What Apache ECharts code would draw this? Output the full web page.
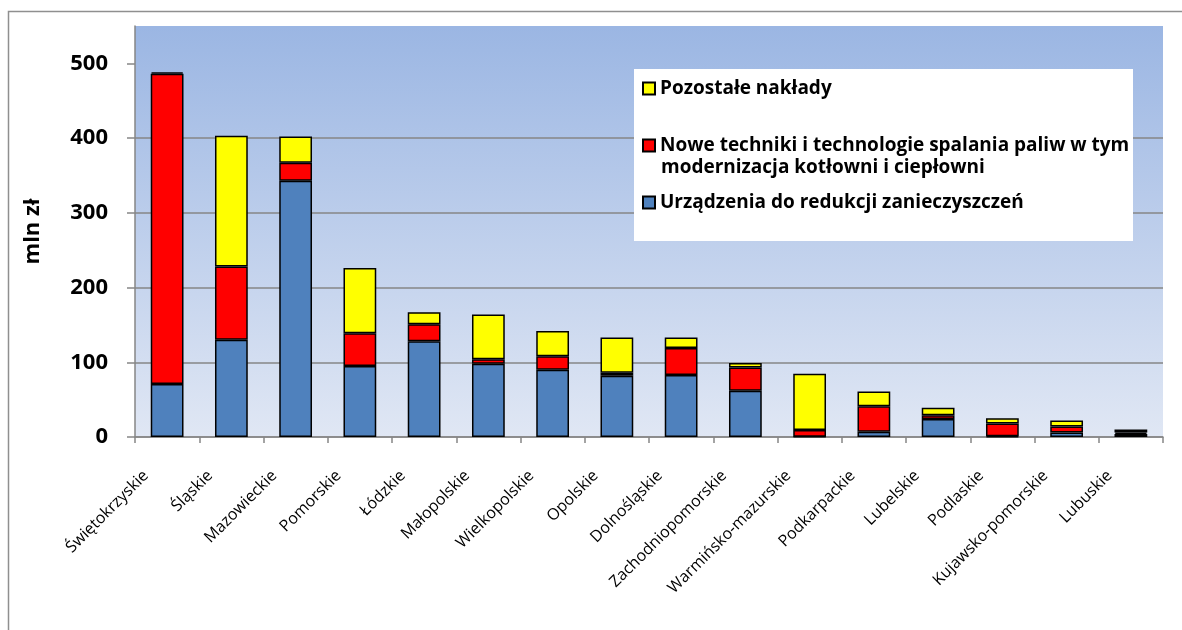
<!DOCTYPE html>
<html>
<head>
<meta charset="UTF-8">
<title>Nakłady inwestycyjne na ochronę powietrza według województw</title>
<script src="https://cdn.jsdelivr.net/npm/echarts@6/dist/echarts.min.js"></script>
<style>
    html, body { margin: 0; padding: 0; background: #fff; }
    #chart { width: 1182px; height: 630px; }
</style>
</head>
<body>
<div id="chart"></div>
<script>
    // dane (mln zł)
    var regions = ['Świętokrzyskie', 'Śląskie', 'Mazowieckie', 'Pomorskie', 'Łódzkie', 'Małopolskie',
        'Wielkopolskie', 'Opolskie', 'Dolnośląskie', 'Zachodniopomorskie', 'Warmińsko-mazurskie',
        'Podkarpackie', 'Lubelskie', 'Podlaskie', 'Kujawsko-pomorskie', 'Lubuskie'];
    var urzadzenia = [71, 130, 343, 95, 128, 98, 90, 82, 83, 62, 0.5, 7, 24, 1, 6, 4];
    var noweTechniki = [415, 98, 24, 44, 23, 6, 18, 4, 36, 31, 9, 34, 5, 17, 8, 2];
    var pozostale = [2, 175, 35, 87, 16, 60, 34, 47, 14, 6, 75, 20, 10, 7, 8, 4];
    var yTicks = [0, 100, 200, 300, 400, 500];

    var nameBlue = 'Urządzenia do redukcji zanieczyszczeń';
    var nameRed = 'Nowe techniki i technologie spalania paliw w tym modernizacja kotłowni i ciepłowni';
    var nameYellow = 'Pozostałe nakłady';

    var myChart = echarts.init(document.getElementById('chart'));

    var legendText = {fontFamily: 'Open Sans', fontWeight: 'bold', fontSize: 19, color: '#000'};
    function legendAt(name, top, fmt) {
        return {
            data: [name], left: 642, top: top, padding: 0,
            itemWidth: 12, itemHeight: 12, icon: 'rect',
            selectedMode: false,
            formatter: fmt || '{name}',
            textStyle: legendText
        };
    }

    var barStyle = function (color) {
        return {color: color, borderColor: '#000', borderWidth: 1.5};
    };

    option = {
        backgroundColor: '#fff',
        animation: false,
        grid: {
            left: 135, right: 19, top: 26, bottom: 193,
            show: true, borderWidth: 0,
            backgroundColor: new echarts.graphic.LinearGradient(0, 0, 0, 1, [
                {offset: 0, color: '#9bb6e3'},
                {offset: 1, color: '#e0e7f4'}
            ])
        },
        legend: [
            legendAt(nameYellow, 79),
            legendAt(nameRed, 136, function () { return 'Nowe techniki i technologie spalania paliw w tym'; }),
            legendAt(nameBlue, 193)
        ],
        graphic: [
            {   // ramka wykresu
                type: 'rect', silent: true, z: 0,
                shape: {x: 8.5, y: 11.5, width: 1300, height: 700},
                style: {fill: 'none', stroke: '#8f8f8f', lineWidth: 1.5}
            },
            {   // tło legendy
                type: 'rect', silent: true, z: 3,
                shape: {x: 634, y: 69, width: 499, height: 172},
                style: {fill: '#fff'}
            },
            {
                type: 'text', silent: true, z: 5,
                x: 661, y: 168,
                style: {
                    text: 'modernizacja kotłowni i ciepłowni',
                    font: 'bold 19px "Open Sans"', fill: '#000', verticalAlign: 'middle'
                }
            }
        ],
        xAxis: {
            type: 'category',
            data: regions,
            axisLine: {lineStyle: {color: '#868686', width: 1.5}},
            axisTick: {show: true, length: 6, lineStyle: {color: '#868686', width: 1.5}},
            axisLabel: {
                interval: 0, rotate: 45, margin: 15, padding: [0, 30, 0, 0],
                fontFamily: 'Open Sans', fontSize: 16, color: '#000'
            }
        },
        yAxis: {
            type: 'value',
            min: 0, max: 550, interval: 100,
            name: 'mln zł',
            nameLocation: 'middle', nameRotate: 90, nameGap: 91,
            nameTextStyle: {fontFamily: 'Open Sans', fontWeight: 'bold', fontSize: 22, color: '#000'},
            axisLine: {show: true, lineStyle: {color: '#868686', width: 1.5}},
            axisTick: {show: true, length: 8, customValues: yTicks, lineStyle: {color: '#868686', width: 1.5}},
            axisLabel: {
                customValues: yTicks, margin: 27,
                fontFamily: 'Open Sans', fontWeight: 'bold', fontSize: 22, color: '#000'
            },
            splitLine: {show: true, showMaxLine: false, lineStyle: {color: '#868686', width: 1.5}}
        },
        series: [
            {name: nameBlue, type: 'bar', stack: 'suma', barWidth: '51%', itemStyle: barStyle('#4f81bd'), data: urzadzenia},
            {name: nameRed, type: 'bar', stack: 'suma', itemStyle: barStyle('#ff0000'), data: noweTechniki},
            {name: nameYellow, type: 'bar', stack: 'suma', itemStyle: barStyle('#ffff00'), data: pozostale}
        ]
    };
    myChart.setOption(option);
</script>
</body>
</html>
